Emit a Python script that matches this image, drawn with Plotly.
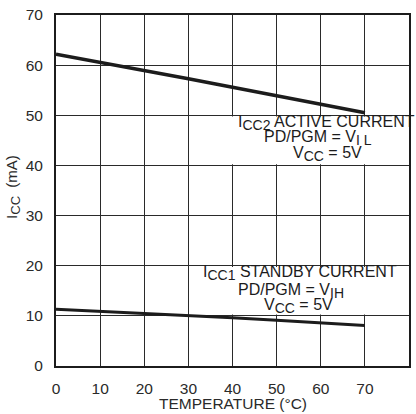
import plotly.graph_objects as go

# Data
temperature = [0, 10, 20, 30, 40, 50, 60, 70]
icc2_active = [62.2, 60.6, 59.0, 57.3, 55.6, 53.9, 52.2, 50.5]
icc1_standby = [11.3, 10.9, 10.5, 10.0, 9.6, 9.1, 8.6, 8.1]

x_ticks = [0, 10, 20, 30, 40, 50, 60, 70, 80]
y_ticks = [0, 10, 20, 30, 40, 50, 60, 70]

FONT = "Liberation Sans, Arial, Helvetica, sans-serif"
INK = "#1c1c1c"
TXT = "#2a2a2a"


def sub(t, size):
    return f"<sub><span style='font-size:{size}px'>{t}</span></sub>"


fig = go.Figure()
fig.add_trace(go.Scatter(x=temperature, y=icc2_active, mode="lines",
                         line=dict(color=INK, width=3.5), showlegend=False))
fig.add_trace(go.Scatter(x=temperature, y=icc1_standby, mode="lines",
                         line=dict(color=INK, width=3), showlegend=False))

# white label boxes that interrupt the grid
for y0, y1 in [(40.25, 49.75), (10.25, 19.75)]:
    fig.add_shape(type="rect", xref="x", yref="y", x0=31, x1=80, y0=y0, y1=y1,
                  fillcolor="white", line=dict(width=0), layer="between")

ann_font = dict(family=FONT, size=16, color=INK)
labels = [
    (61.2, 48.5, "I" + sub("CC2", 14) + " ACTIVE CURRENT"),
    (59.3, 45.4, "PD/PGM = V" + sub("I L", 14)),
    (61.5, 42.3, "V" + sub("CC", 14) + " = 5V"),
    (55.2, 18.5, "I" + sub("CC1", 14) + " STANDBY CURRENT"),
    (53.2, 14.9, "PD/PGM = V" + sub("IH", 14)),
    (55.0, 11.9, "V" + sub("CC", 14) + " = 5V"),
]
for x, y, t in labels:
    fig.add_annotation(x=x, y=y, xref="x", yref="y", text=t, showarrow=False,
                       font=ann_font, xanchor="center", yanchor="middle")

# axis titles
fig.add_annotation(x=0.5, y=-0.108, xref="paper", yref="paper", text="TEMPERATURE (°C)",
                   showarrow=False, font=dict(family=FONT, size=15.5, color=TXT),
                   xanchor="center", yanchor="middle")
fig.add_annotation(x=-0.122, y=0.51, xref="paper", yref="paper",
                   text="I" + sub("CC", 13) + "  (mA)", textangle=-90,
                   showarrow=False, font=dict(family=FONT, size=15, color=TXT),
                   xanchor="center", yanchor="middle")

axis_common = dict(showgrid=True, gridcolor="#2a2a2a", gridwidth=1,
                   showline=True, linecolor=INK, linewidth=2, mirror=True,
                   zeroline=False, ticks="", automargin=False,
                   tickfont=dict(family=FONT, size=15.5, color=TXT))

fig.update_xaxes(range=[0, 80], tickvals=x_ticks, ticktext=[str(v) for v in x_ticks],
                 ticklabelstandoff=7, **axis_common)
fig.update_yaxes(range=[0, 70], tickvals=y_ticks, ticktext=[str(v) for v in y_ticks],
                 ticklabelstandoff=8, **axis_common)

fig.update_layout(width=416, height=414, margin=dict(l=56, r=7, t=15, b=48),
                  paper_bgcolor="white", plot_bgcolor="white")

# remove the page's default body margin so the figure fills the window exactly
fig.write_html("out.html", config={"displayModeBar": False},
               post_script="document.body.style.margin='0';document.body.style.overflow='hidden';")
